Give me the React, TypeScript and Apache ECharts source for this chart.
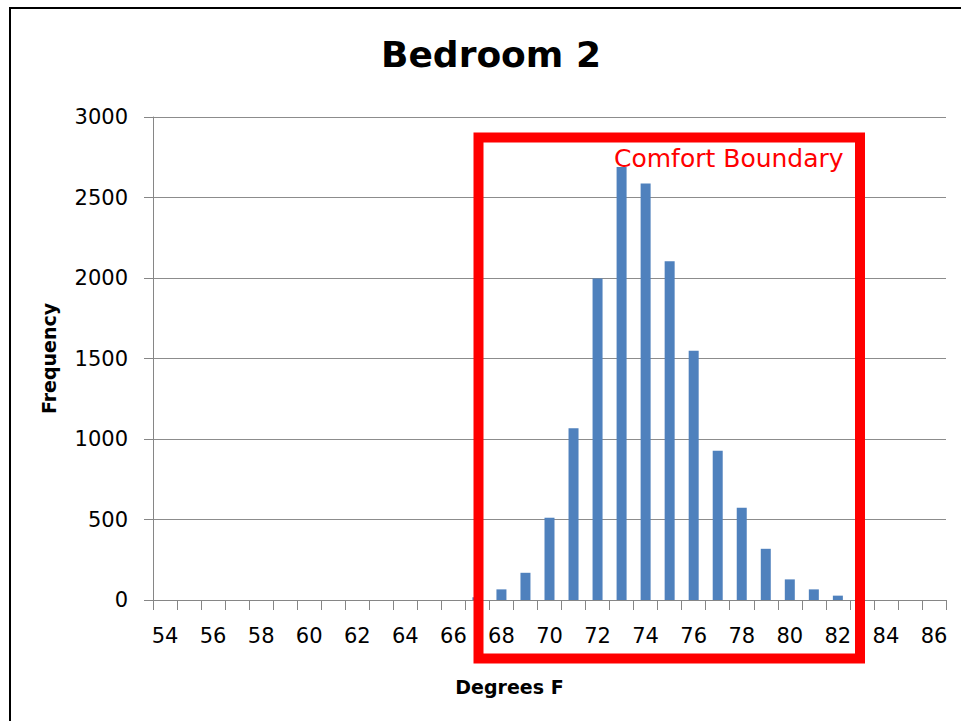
import React, { useEffect, useRef } from "react";
import * as echarts from "echarts";

const titleText = "Bedroom 2";
const xAxisTitle = "Degrees F";
const yAxisTitle = "Frequency";
const annotationText = "Comfort Boundary";

const categories = [
  "54", "55", "56", "57", "58", "59", "60", "61", "62", "63", "64",
  "65", "66", "67", "68", "69", "70", "71", "72", "73", "74", "75",
  "76", "77", "78", "79", "80", "81", "82", "83", "84", "85", "86",
];

const frequency = [
  0, 0, 0, 0, 0, 0, 0, 0, 0, 0, 0,
  0, 0, 17, 66, 169, 511, 1066, 1997, 2690, 2587, 2104,
  1548, 927, 573, 318, 128, 66, 27, 0, 0, 0, 0,
];

const yTicks = { min: 0, max: 3000, interval: 500 };

const FONT = "'DejaVu Sans', 'Liberation Sans', sans-serif";

export default function App() {
  const ref = useRef<HTMLDivElement>(null);

  useEffect(() => {
    if (!ref.current) return;
    const chart = echarts.init(ref.current, null, { renderer: "svg" });
    chart.setOption({
      animation: false,
      backgroundColor: "#ffffff",
      title: {
        text: titleText,
        left: 376,
        top: 31,
        textStyle: {
          fontFamily: FONT,
          fontSize: 36,
          fontWeight: "bold",
          color: "#000000",
        },
      },
      grid: {
        left: 153,
        right: 15,
        top: 117,
        bottom: 121,
        containLabel: false,
      },
      xAxis: {
        type: "category",
        data: categories,
        boundaryGap: true,
        name: xAxisTitle,
        nameLocation: "middle",
        nameGap: 77,
        nameTextStyle: {
          fontFamily: FONT,
          fontSize: 19,
          fontWeight: "bold",
          color: "#000000",
          padding: [0, 80, 0, 0],
        },
        axisLine: { show: true, lineStyle: { color: "#868686", width: 1 } },
        axisTick: {
          show: true,
          interval: 0,
          length: 10,
          alignWithLabel: false,
          lineStyle: { color: "#868686" },
        },
        axisLabel: {
          interval: 1,
          margin: 25,
          fontFamily: FONT,
          fontSize: 21,
          color: "#000000",
        },
        splitLine: { show: false },
      },
      yAxis: {
        type: "value",
        min: yTicks.min,
        max: yTicks.max,
        interval: yTicks.interval,
        name: yAxisTitle,
        nameLocation: "middle",
        nameGap: 95,
        nameRotate: 90,
        nameTextStyle: {
          fontFamily: FONT,
          fontSize: 19,
          fontWeight: "bold",
          color: "#000000",
        },
        axisLine: { show: true, lineStyle: { color: "#868686", width: 1 } },
        axisTick: { show: true, length: 9, lineStyle: { color: "#868686" } },
        axisLabel: {
          margin: 25,
          fontFamily: FONT,
          fontSize: 21,
          color: "#000000",
          formatter: (v: number) => String(v),
        },
        splitLine: { show: true, lineStyle: { color: "#8c8c8c", width: 1 } },
      },
      series: [
        {
          type: "bar",
          data: frequency,
          barWidth: 10,
          itemStyle: { color: "#4f81bd" },
        },
      ],
      graphic: [
        {
          type: "rect",
          shape: { x: 10, y: 8, width: 1200, height: 1200 },
          style: { fill: "none", stroke: "#000000", lineWidth: 2 },
          silent: true,
          z: 0,
        },
        {
          type: "rect",
          shape: { x: 478.5, y: 137.5, width: 381.5, height: 521 },
          style: { fill: "none", stroke: "#ff0000", lineWidth: 10 },
          silent: true,
          z: 100,
        },
        {
          type: "text",
          x: 614,
          y: 146,
          style: {
            text: annotationText,
            fontFamily: FONT,
            fontSize: 25,
            fill: "#ff0000",
            textVerticalAlign: "top",
          },
          silent: true,
          z: 101,
        },
      ],
    });
    return () => chart.dispose();
  }, []);

  return (
    <div
      ref={ref}
      style={{ position: "absolute", left: 0, top: 0, width: 961, height: 721 }}
    />
  );
}
